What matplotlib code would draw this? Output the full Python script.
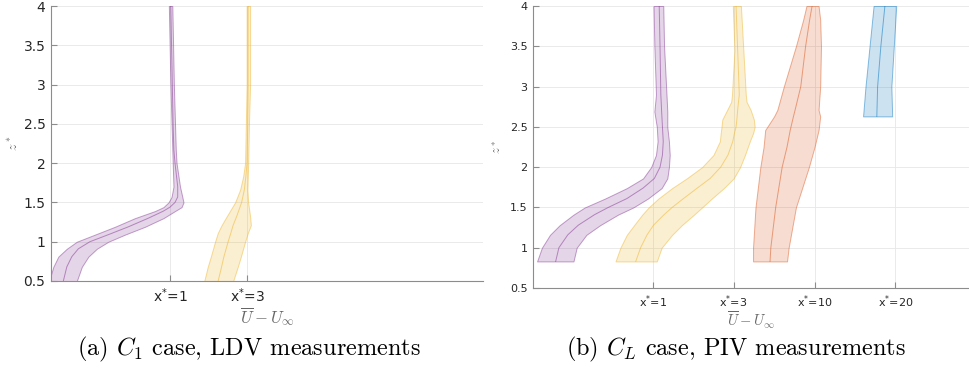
import numpy as np
import matplotlib
matplotlib.use("Agg")
import matplotlib.pyplot as plt

plt.rcParams['mathtext.fontset'] = 'cm'
plt.rcParams['axes.unicode_minus'] = False

# MATLAB default line colours
PURPLE = (0.494, 0.184, 0.556)
YELLOW = (0.929, 0.694, 0.125)
ORANGE = (0.850, 0.325, 0.098)
BLUE = (0.0, 0.447, 0.741)

# ---- (a) C1 case, LDV : offsets from the station position ----
a_stations = [1, 3]
a_labels = ["x$^{*}$=1", "x$^{*}$=3"]

a1_z = [0.5, 0.68, 0.81, 0.91, 1.0, 1.09, 1.19, 1.3, 1.39, 1.44, 1.5, 1.57, 1.7, 2.0, 2.17, 2.5, 3.0, 3.5, 4.0]
a1_lo = [-3.14, -3.03, -2.90, -2.68, -2.42, -1.95, -1.43, -0.91, -0.39, -0.17, -0.04, 0.04, 0.09, 0.07, 0.06, 0.04, 0.01, -0.01, -0.03]
a1_mean = [-2.77, -2.68, -2.55, -2.38, -2.08, -1.60, -1.08, -0.56, -0.17, 0.00, 0.13, 0.20, 0.20, 0.13, 0.10, 0.08, 0.06, 0.04, 0.02]
a1_hi = [-2.42, -2.29, -2.12, -1.90, -1.60, -1.17, -0.65, -0.17, 0.13, 0.30, 0.35, 0.32, 0.26, 0.17, 0.15, 0.13, 0.10, 0.08, 0.06]

a3_z = [0.5, 0.68, 0.81, 1.0, 1.11, 1.21, 1.32, 1.5, 1.66, 1.83, 2.0, 2.5, 3.0, 3.5, 4.0]
a3_lo = [-1.11, -1.02, -0.94, -0.83, -0.76, -0.66, -0.53, -0.31, -0.18, -0.10, -0.05, -0.03, -0.01, -0.01, -0.01]
a3_mean = [-0.75, -0.66, -0.60, -0.49, -0.42, -0.36, -0.27, -0.14, -0.07, -0.03, 0.00, 0.02, 0.03, 0.03, 0.03]
a3_hi = [-0.36, -0.24, -0.16, -0.05, 0.02, 0.10, 0.08, 0.03, 0.01, 0.02, 0.03, 0.05, 0.08, 0.08, 0.08]

# ---- (b) CL case, PIV ----
b_stations = [1, 2, 3, 4]
b_labels = ["x$^{*}$=1", "x$^{*}$=3", "x$^{*}$=10", "x$^{*}$=20"]

b1_z = [0.83, 1.0, 1.16, 1.28, 1.41, 1.5, 1.61, 1.74, 1.86, 2.0, 2.15, 2.32, 2.5, 2.69, 2.9, 3.5, 4.0]
b1_lo = [-1.43, -1.37, -1.27, -1.15, -0.98, -0.84, -0.59, -0.32, -0.12, -0.02, 0.04, 0.06, 0.05, 0.02, 0.04, 0.02, 0.01]
b1_mean = [-1.20, -1.16, -1.05, -0.92, -0.72, -0.55, -0.32, -0.12, 0.02, 0.09, 0.12, 0.13, 0.12, 0.11, 0.10, 0.09, 0.08]
b1_hi = [-0.98, -0.94, -0.82, -0.65, -0.43, -0.24, -0.06, 0.11, 0.18, 0.20, 0.21, 0.20, 0.18, 0.18, 0.17, 0.14, 0.13]

b3_z = [0.83, 1.0, 1.16, 1.28, 1.41, 1.5, 1.61, 1.74, 1.86, 2.0, 2.15, 2.32, 2.42, 2.5, 2.59, 2.71, 2.81, 2.9, 3.45, 4.0]
b3_lo = [-1.46, -1.40, -1.32, -1.23, -1.13, -1.05, -0.93, -0.76, -0.58, -0.39, -0.25, -0.17, -0.16, -0.15, -0.14, -0.08, -0.03, -0.02, 0.01, -0.01]
b3_mean = [-1.21, -1.15, -1.07, -0.99, -0.86, -0.76, -0.62, -0.45, -0.29, -0.16, -0.07, -0.01, 0.01, 0.03, 0.04, 0.05, 0.06, 0.07, 0.05, 0.03]
b3_hi = [-0.95, -0.89, -0.76, -0.64, -0.49, -0.39, -0.27, -0.12, 0.00, 0.08, 0.14, 0.20, 0.24, 0.26, 0.25, 0.21, 0.16, 0.15, 0.12, 0.09]

b10_z = [0.83, 1.0, 1.5, 2.0, 2.25, 2.46, 2.63, 2.71, 3.0, 3.5, 3.83, 4.0]
b10_lo = [-0.76, -0.76, -0.73, -0.67, -0.63, -0.61, -0.50, -0.46, -0.38, -0.23, -0.14, -0.10]
b10_mean = [-0.55, -0.54, -0.48, -0.40, -0.34, -0.30, -0.26, -0.24, -0.17, -0.11, -0.06, -0.03]
b10_hi = [-0.34, -0.32, -0.23, -0.07, 0.00, 0.05, 0.07, 0.05, 0.07, 0.08, 0.07, 0.05]

b20_z = [2.63, 3.0, 3.5, 4.0]
b20_lo = [-0.40, -0.37, -0.32, -0.27]
b20_mean = [-0.23, -0.22, -0.18, -0.13]
b20_hi = [-0.04, -0.05, -0.02, 0.01]

y_ticks = [0.5, 1, 1.5, 2, 2.5, 3, 3.5, 4]
y_labels = ["0.5", "1", "1.5", "2", "2.5", "3", "3.5", "4"]


def draw_profile(ax, x0, z, lo, mean, hi, color):
    z = np.array(z)
    lo = x0 + np.array(lo)
    hi = x0 + np.array(hi)
    mean = x0 + np.array(mean)
    ax.fill_betweenx(z, lo, hi, facecolor=color + (0.2,),
                     edgecolor=color + (0.45,), linewidth=0.7, zorder=2)
    ax.plot(mean, z, color=color, alpha=0.5, linewidth=0.7, zorder=3)


def style_axes(ax, stations, labels, fs):
    ax.set_ylim(0.5, 4)
    ax.set_yticks(y_ticks)
    ax.set_yticklabels(y_labels, fontsize=fs, color='0.15')
    ax.set_xticks(stations)
    ax.set_xticklabels(labels, fontsize=fs, color='0.15', math_fontfamily='dejavusans')
    ax.grid(True, color='0.9', linewidth=0.6)
    ax.set_axisbelow(True)
    for s in ['top', 'right']:
        ax.spines[s].set_visible(False)
    for s in ['left', 'bottom']:
        ax.spines[s].set_color('0.55')
        ax.spines[s].set_linewidth(0.8)
    ax.tick_params(direction='in', length=4, color='0.55', pad=4)


fig = plt.figure(figsize=(9.7, 3.71), dpi=100)

# (a)
ax1 = fig.add_axes([0.0526, 0.2426, 0.4454, 0.7412])
draw_profile(ax1, a_stations[0], a1_z, a1_lo, a1_mean, a1_hi, PURPLE)
draw_profile(ax1, a_stations[1], a3_z, a3_lo, a3_mean, a3_hi, YELLOW)
ax1.set_xlim(-2.09, 9.13)
style_axes(ax1, a_stations, a_labels, 10)
ax1.set_xlabel(r"$\overline{U}-U_\infty$", fontsize=12, color='0.4', labelpad=0)
ax1.set_ylabel(r"$z^*$", fontsize=10, color='0.4', labelpad=2)

# (b)
ax2 = fig.add_axes([0.5495, 0.2237, 0.4495, 0.7601])
draw_profile(ax2, b_stations[0], b1_z, b1_lo, b1_mean, b1_hi, PURPLE)
draw_profile(ax2, b_stations[1], b3_z, b3_lo, b3_mean, b3_hi, YELLOW)
draw_profile(ax2, b_stations[2], b10_z, b10_lo, b10_mean, b10_hi, ORANGE)
draw_profile(ax2, b_stations[3], b20_z, b20_lo, b20_mean, b20_hi, BLUE)
ax2.set_xlim(-0.48, 4.91)
style_axes(ax2, b_stations, b_labels, 8)
ax2.set_xlabel(r"$\overline{U}-U_\infty$", fontsize=10.5, color='0.4', labelpad=0)
ax2.set_ylabel(r"$z^*$", fontsize=9, color='0.4', labelpad=4)

fig.text(0.2565, 0.057, r"(a) $C_1$ case, LDV measurements", family='cmr10',
         fontsize=17.5, ha='center', va='center')
fig.text(0.7585, 0.057, r"(b) $C_L$ case, PIV measurements", family='cmr10',
         fontsize=17.5, ha='center', va='center')

fig.savefig("out.png", dpi=100)
